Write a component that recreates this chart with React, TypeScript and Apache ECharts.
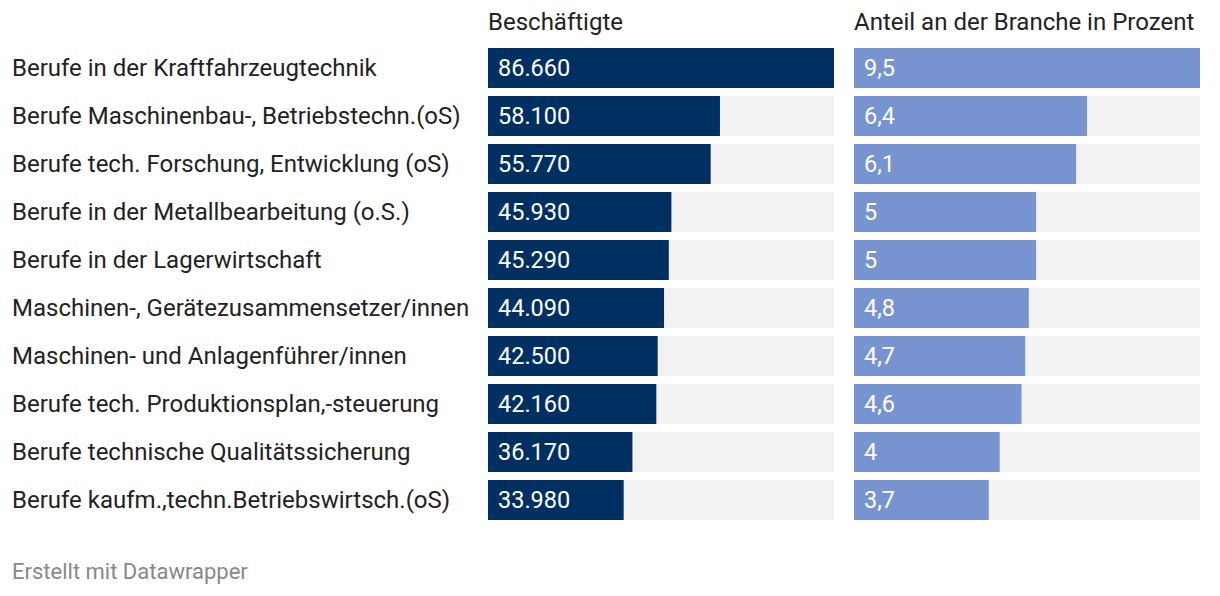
import React, { useEffect, useRef } from "react";
import * as echarts from "echarts";

const categories = [
  "Berufe in der Kraftfahrzeugtechnik",
  "Berufe Maschinenbau-, Betriebstechn.(oS)",
  "Berufe tech. Forschung, Entwicklung (oS)",
  "Berufe in der Metallbearbeitung (o.S.)",
  "Berufe in der Lagerwirtschaft",
  "Maschinen-, Gerätezusammensetzer/innen",
  "Maschinen- und Anlagenführer/innen",
  "Berufe tech. Produktionsplan,-steuerung",
  "Berufe technische Qualitätssicherung",
  "Berufe kaufm.,techn.Betriebswirtsch.(oS)",
];
const employees = [86660, 58100, 55770, 45930, 45290, 44090, 42500, 42160, 36170, 33980];
const share = [9.5, 6.4, 6.1, 5, 5, 4.8, 4.7, 4.6, 4, 3.7];
const headers = ["Beschäftigte", "Anteil an der Branche in Prozent"];
const footer = "Erstellt mit Datawrapper";

const FONT = "Roboto, sans-serif";
const FS = 24;
const VFS = 23.5;

export default function App() {
  const ref = useRef<HTMLDivElement>(null);
  useEffect(() => {
    const chart = echarts.init(ref.current!, null, { renderer: "svg" });
    const fmtDE = (v: number) => v.toLocaleString("de-DE");
    const bg = { color: "#f2f2f2" };
    const valueLabel = {
      show: true,
      position: "insideLeft",
      distance: 10,
      color: "#fff",
      fontSize: VFS,
      fontFamily: FONT,
      formatter: (p: any) => fmtDE(p.value),
    };
    chart.setOption({
      animation: false,
      textStyle: { fontFamily: FONT },
      grid: [
        { left: 488, width: 346, top: 44, height: 480 },
        { left: 854, width: 346, top: 44, height: 480 },
      ],
      xAxis: [
        { gridIndex: 0, type: "value", min: 0, max: 86660, show: false },
        { gridIndex: 1, type: "value", min: 0, max: 9.5, show: false },
      ],
      yAxis: [
        {
          gridIndex: 0,
          type: "category",
          data: categories,
          inverse: true,
          axisLine: { show: false },
          axisTick: { show: false },
          axisLabel: {
            align: "left",
            margin: 476,
            fontSize: FS,
            color: "#222",
            fontFamily: FONT,
          },
        },
        {
          gridIndex: 1,
          type: "category",
          data: categories,
          inverse: true,
          show: false,
        },
      ],
      series: [
        {
          type: "bar",
          xAxisIndex: 0,
          yAxisIndex: 0,
          data: employees,
          barWidth: 40,
          itemStyle: { color: "#003062" },
          showBackground: true,
          backgroundStyle: bg,
          label: valueLabel,
        },
        {
          type: "bar",
          xAxisIndex: 1,
          yAxisIndex: 1,
          data: share,
          barWidth: 40,
          itemStyle: { color: "#7894d0" },
          showBackground: true,
          backgroundStyle: bg,
          label: valueLabel,
        },
      ],
      graphic: [
        {
          type: "text",
          left: 488,
          top: 10,
          style: { text: headers[0], fontSize: FS, fill: "#222", fontFamily: FONT },
        },
        {
          type: "text",
          left: 854,
          top: 10,
          style: { text: headers[1], fontSize: FS, fill: "#222", fontFamily: FONT },
        },
        {
          type: "text",
          left: 12,
          top: 560,
          style: { text: footer, fontSize: 22, fill: "#888", fontFamily: FONT },
        },
      ],
    });
    return () => chart.dispose();
  }, []);
  return (
    <div
      ref={ref}
      style={{ position: "fixed", left: 0, top: 0, width: 1220, height: 596, background: "#fff" }}
    />
  );
}
